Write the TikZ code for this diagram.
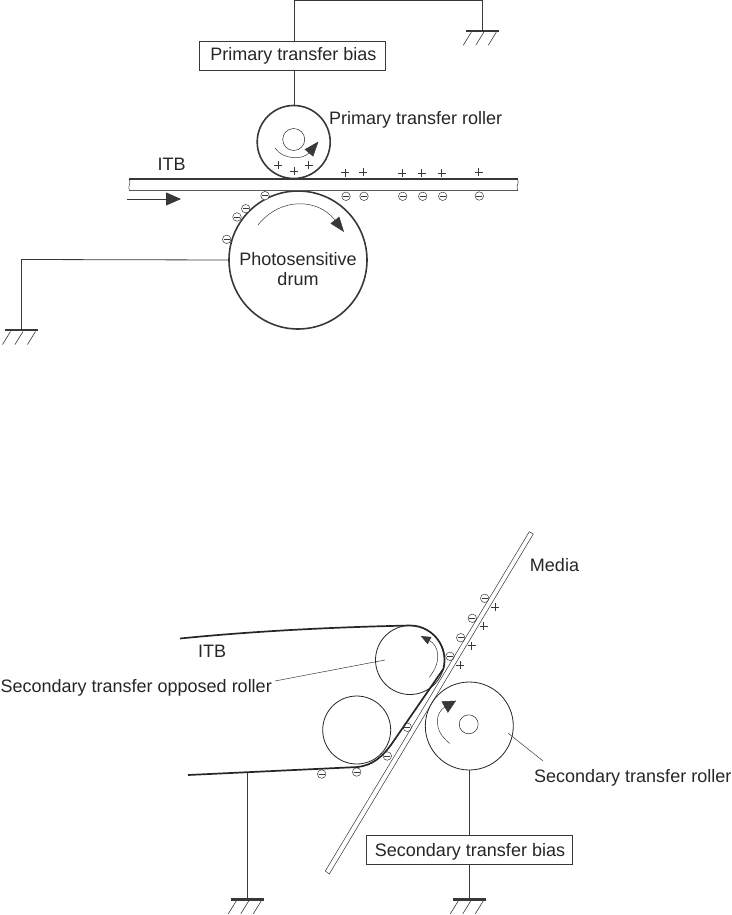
\documentclass[tikz,border=0pt]{standalone}
\usepackage{fontspec}
\setmainfont{Liberation Sans}
\usetikzlibrary{arrows.meta,calc}
\definecolor{inkgray}{gray}{0.22}
\newcommand{\gndwidth}{2pt}
\tikzset{
  wire/.style={draw=inkgray, line width=0.8pt},
  thinline/.style={draw=inkgray, line width=0.5pt},
  biasbox/.style={draw=inkgray, line width=0.8pt, minimum height=29pt, inner sep=0pt, outer sep=0pt},
  roller/.style={circle, draw=inkgray, line width=1.6pt, inner sep=0pt, outer sep=0pt},
  smallroller/.style={circle, draw=black!85, line width=0.8pt, inner sep=0pt, outer sep=0pt},
  label/.style={inner sep=0pt, text=black!85},
  belt/.style={draw=black!85, line width=1.7pt, line join=round},
  neg/.style={circle, draw=inkgray, line width=0.5pt, minimum size=8.5pt, inner sep=0pt,
    path picture={\draw[inkgray, line width=0.6pt] ([xshift=-3pt]path picture bounding box.center) -- ([xshift=3pt]path picture bounding box.center);}},
  ground/.pic={
    \draw[inkgray, line width=\gndwidth] (-16.8,0) -- (16.8,0);
    \foreach \g in {-19,-6.5,6} { \draw[inkgray, line width=0.6pt] (\g+8,1.5) -- (\g,14.5); }
  },
  bigtip/.style={-{Triangle[length=15pt,width=11pt]}, draw=inkgray, fill=none, line width=0.5pt}
}
\begin{document}
\begin{tikzpicture}[x=1pt, y=-1pt, font=\fontsize{18}{21}\selectfont]
\useasboundingbox (0,0) rectangle (731,915);
% primary transfer
\node[biasbox, minimum width=186pt] (ptbias) at (292,55.5) {};
\node[label] (ptbiastext) at (293.5,56) {Primary transfer bias};
\node[roller, minimum size=73pt] (ptroller) at (293.7,142) {};
\node[smallroller, line width=0.5pt, minimum size=22pt] (pthub) at (293.7,139.5) {};
\node[label, anchor=west] (ptlabel) at (329,120) {Primary transfer roller};
\node[label] (itbtop) at (171.5,164) {ITB};
\node[roller, minimum size=138pt] (drum) at (298,260) {};
\node[label, align=center, font=\fontsize{18}{20.5}\selectfont] (drumtext) at (298,269) {Photosensitive\\drum};
\coordinate (ptcorner) at (294.5,0.5);
\coordinate (ptgnd) at (482.3,30.7);
\coordinate (drumcorner) at (21.5,259.5);
\coordinate (drumgnd) at (21.5,330);
\draw[wire] (ptbias.north -| ptcorner) -- (ptcorner) -| (ptgnd);
\draw[wire] (ptbias.south -| ptcorner) -- (ptcorner |- ptroller.north);
\draw[wire] (drum.west) -- (drumcorner) -- (drumgnd);
\pic at (ptgnd) {ground};
\pic at (drumgnd) {ground};
% belt
\draw[draw=inkgray, line width=1.8pt] (129,179) -- (517.5,179);
\draw[draw=black!65, line width=1.3pt] (129,190.7) -- (517.5,190.7);
\draw[thinline] (129,179) .. controls (132,183) and (127,186) .. (129.5,190.7);
\draw[thinline] (517.5,179) .. controls (520,183) and (515,186) .. (518,190.7);
\coordinate (beltfrom) at (127,199);
\coordinate (beltto) at (181,199);
\draw[wire, -{Triangle[length=15pt,width=13pt]}, inkgray] (beltfrom) -- (beltto);
\draw[bigtip] (275,148) .. controls (283,160) and (303,160) .. (318.5,141.5);
\draw[bigtip] (258,225) .. controls (280,197) and (318,198) .. (344,232);
\foreach \x/\y in {278/165,294/171,308.7/165,345/172.7,363/172.3,402/173,421.7/173,441.7/173,478.7/172} {
  \draw[thinline] (\x-4,\y) -- (\x+4,\y) (\x,\y-4) -- (\x,\y+4);
}
\foreach \x/\y [count=\n] in {265/195.7,346/196.3,364/196.3,402.7/196.3,422.7/196.3,442.7/196.3,479.3/196,245.7/208.7,237/217,226.7/239.3} {
  \node[neg, fill=white] (pneg\n) at (\x,\y) {};
}
% secondary transfer
\node[smallroller, minimum size=69pt] (oproller) at (410,660) {};
\node[smallroller, minimum size=68pt] (lowroller) at (356.7,730) {};
\node[smallroller, minimum size=88pt] (stroller) at (469.3,726) {};
\node[smallroller, line width=0.5pt, minimum size=19pt] (sthub) at (468.7,724.3) {};
\node[biasbox, minimum width=206pt, fill=white] (stbias) at (469,850.3) {};
\node[label] (stbiastext) at (470,851.5) {Secondary transfer bias};
\node[label] (media) at (554.5,565) {Media};
\node[label] (itblow) at (212,651) {ITB};
\node[label, anchor=east] (oplabel) at (272,688) {Secondary transfer opposed roller};
\node[label, anchor=west] (stlabel) at (534,778) {Secondary transfer roller};
\draw[thinline] (529.3,531.7) -- (533.3,534) -- (329.3,874) -- (325.3,871) -- cycle;
\draw[belt] (180,638.5) .. controls (260,630.5) and (340,627) .. (410,625.5)
  arc[start angle=-90, end angle=15, radius=34.5] -- (393,742)
  .. controls (382,758) and (372,765) .. (358,767) -- (188,775);
\coordinate (oplead) at (385,660);
\coordinate (stlead) at (508.3,733.3);
\coordinate (stleadend) at (542.7,760.7);
\coordinate (lowbelt) at (247.3,772.5);
\coordinate (lowgnd) at (247.3,899.3);
\coordinate (stgnd) at (469.3,899.3);
\draw[thinline] ([yshift=7pt]oplabel.east) ++(3,0) -- (oplead);
\draw[thinline] (stlead) -- (stleadend);
\draw[wire] (lowbelt) -- (lowgnd);
\draw[wire] (stroller.south) -- (stbias.north -| stroller.south);
\draw[wire] (stbias.south -| stgnd) -- (stgnd);
\renewcommand{\gndwidth}{3pt}
\pic at (lowgnd) {ground};
\pic at (stgnd) {ground};
\draw[thinline, -{Triangle[length=10pt,width=8pt]}] (429.3,677.3) .. controls (443,660) and (438,645) .. (420.7,636);
\draw[thinline, -{Triangle[length=13pt,width=13pt]}] (449.7,743.3) .. controls (432,730) and (436,712) .. (456,700.7);
\foreach \x/\y in {495/607.3,483.7/626,471.7/645.7,460.3/665} {
  \draw[thinline] (\x-4,\y) -- (\x+4,\y) (\x,\y-4) -- (\x,\y+4);
}
\foreach \x/\y [count=\n] in {484.7/598.3,472.3/618.3,460.7/637.7,450/656.3,407.3/727.3,387.3/756,356.7/772,321.7/774} {
  \node[neg] (sneg\n) at (\x,\y) {};
}
\end{tikzpicture}
\end{document}
